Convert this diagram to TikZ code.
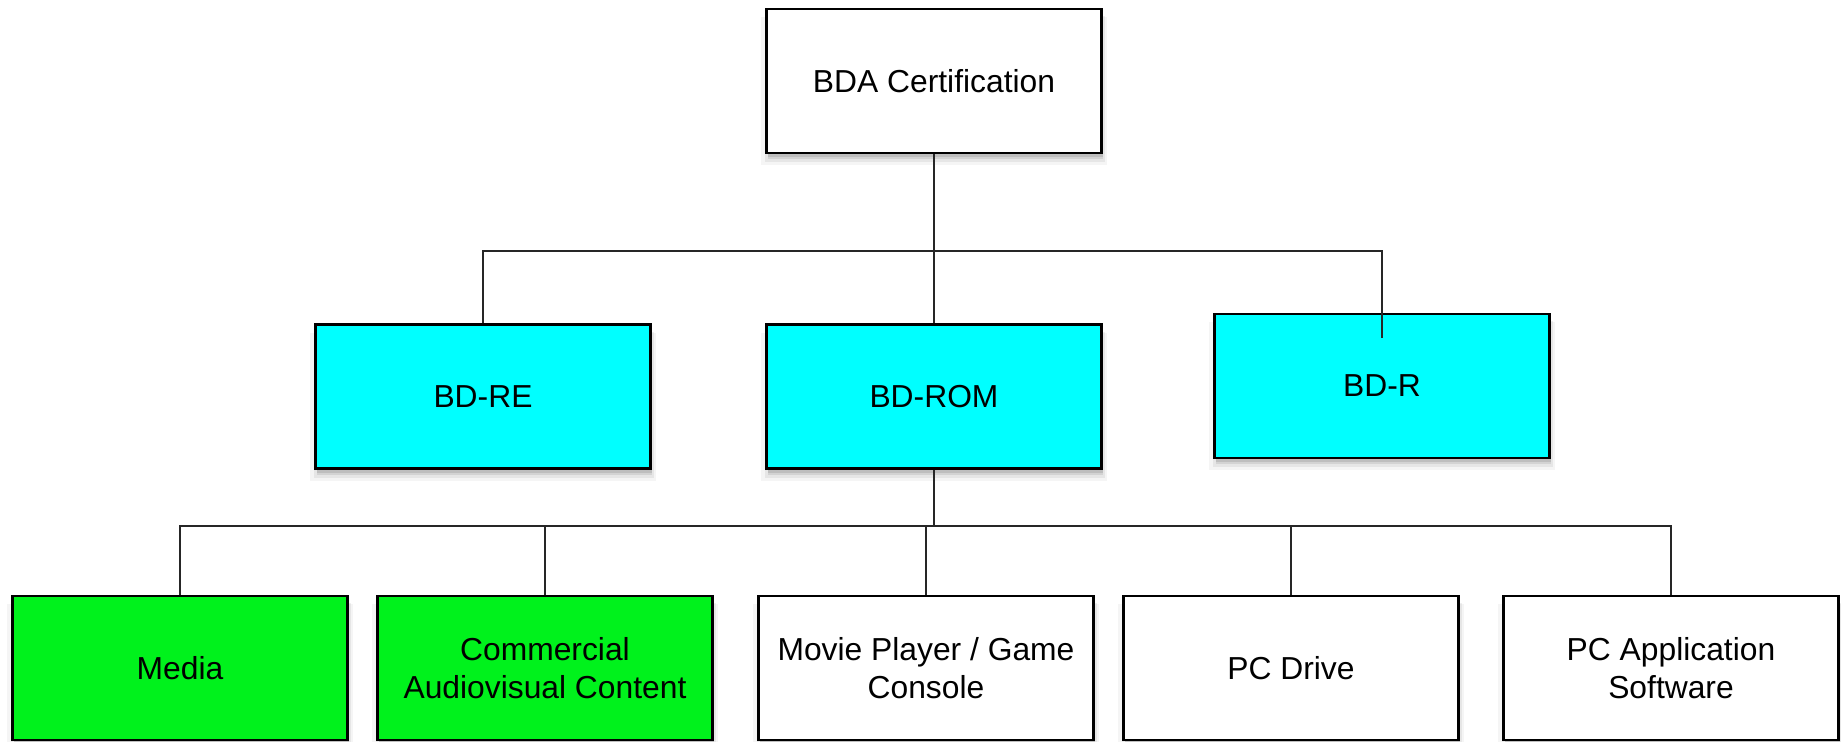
\documentclass[tikz,border=0pt]{standalone}
\usepackage{fontspec}
\setmainfont{Liberation Sans}
\usetikzlibrary{shadows,calc}
\definecolor{boxcyan}{RGB}{0,255,255}
\definecolor{boxgreen}{RGB}{0,242,28}
\begin{document}
\begin{tikzpicture}[x=0.5pt,y=-0.5pt,
  box/.style={draw=black, line width=1.1pt, minimum width=167.5pt, minimum height=72pt,
    inner sep=0pt, align=center, font=\fontsize{15.9}{18.8}\selectfont,
    drop shadow={opacity=0.08, shadow xshift=0pt, shadow yshift=-5pt, shadow scale=1.03},
    drop shadow={opacity=0.12, shadow xshift=0.5pt, shadow yshift=-4pt, shadow scale=1.015},
    drop shadow={opacity=0.18, shadow xshift=0.5pt, shadow yshift=-3pt},
    drop shadow={opacity=0.25, shadow xshift=0.5pt, shadow yshift=-2pt}},
  whitebox/.style={box, fill=white},
  cyanbox/.style={box, fill=boxcyan},
  greenbox/.style={box, fill=boxgreen},
  conn/.style={draw=black!85, line width=0.8pt}]
\clip (0,0) rectangle (1841,741);
\fill[white] (0,0) rectangle (1841,741);

\node[whitebox] (bda) at (934,81) {BDA Certification};
\node[cyanbox] (bdre) at (483,396.5) {BD-RE};
\node[cyanbox] (bdrom) at (934,396.5) {BD-ROM};
\node[cyanbox] (bdr) at (1382,386) {BD-R};

\node[greenbox] (media) at (180,668) {Media};
\node[greenbox] (commercial) at (545,668) {Commercial\\Audiovisual Content};
\node[whitebox] (movie) at (926,668) {Movie Player / Game\\Console};
\node[whitebox] (pcdrive) at (1291,668) {PC Drive};
\node[whitebox] (pcapp) at (1671,668) {PC Application\\Software};

\coordinate (hub1) at (934,251);
\coordinate (bdrend) at ($(bdr.north)+(0,25)$);
\coordinate (hub2) at (931,526);

\draw[conn] (bda.south) -- (bdrom.north);
\draw[conn] (bdre.north) |- (hub1) -| (bdrend);

\draw[conn] (bdrom.south) -- (bdrom.south |- hub2);
\draw[conn] (media.north) |- (hub2) -| (pcapp.north);
\draw[conn] (commercial.north) -- (commercial.north |- hub2);
\draw[conn] (movie.north) -- (movie.north |- hub2);
\draw[conn] (pcdrive.north) -- (pcdrive.north |- hub2);
\end{tikzpicture}
\end{document}
